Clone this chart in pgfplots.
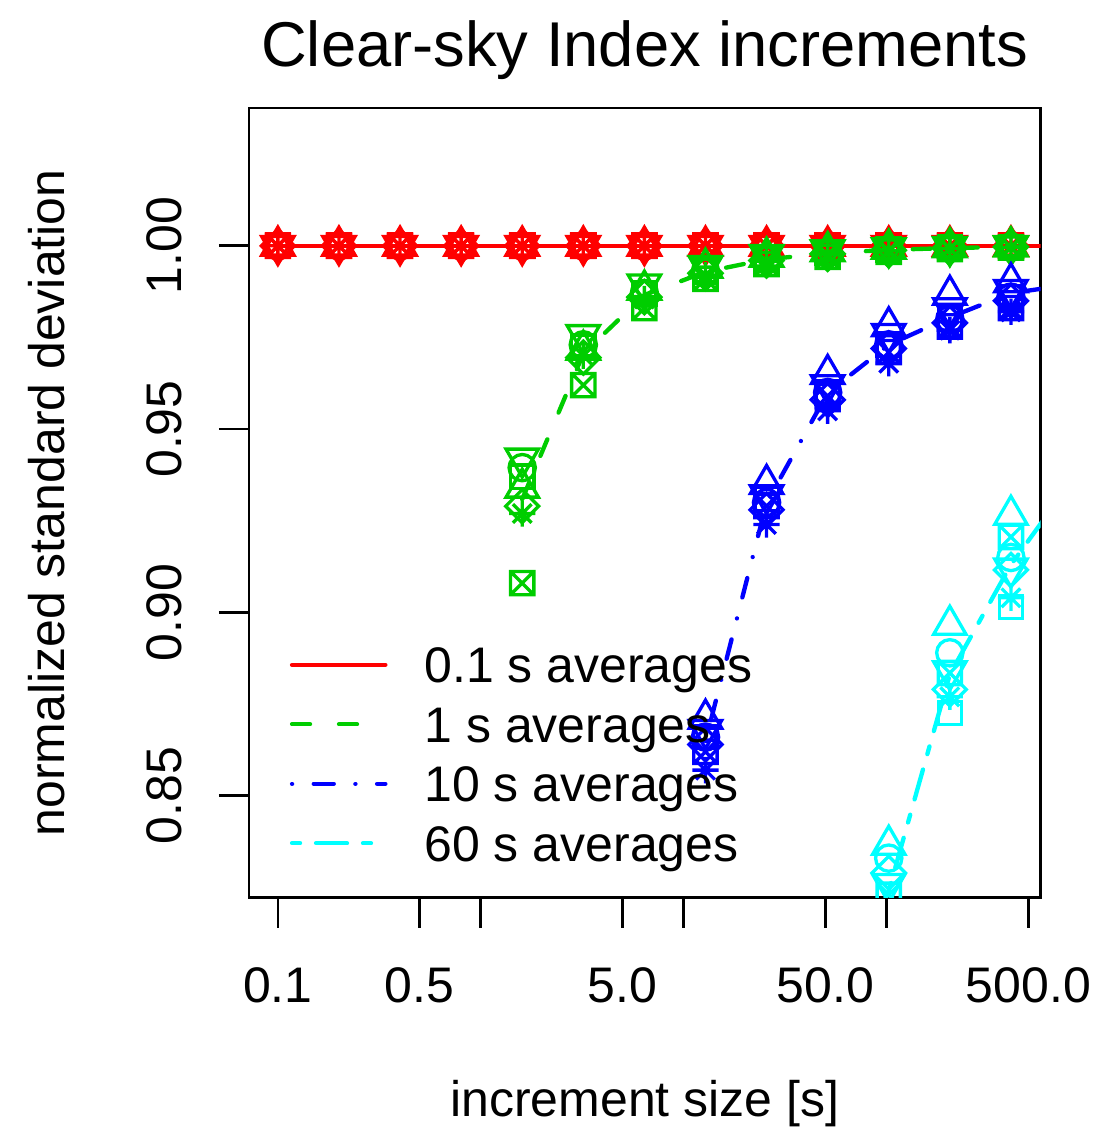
\documentclass[border=0pt]{standalone}
\usepackage{pgfplots}
\pgfplotsset{compat=1.18}
\usepackage{pgfplotstable}
\usepackage{fontspec}
\setmainfont{Liberation Sans}
\definecolor{rred}{RGB}{255,0,0}
\definecolor{rgreen}{RGB}{0,205,0}
\definecolor{rblue}{RGB}{0,0,255}
\definecolor{rcyan}{RGB}{0,255,255}

% R-like plotting symbols
\pgfdeclareplotmark{Rsq}{\pgfpathrectangle{\pgfqpoint{-\pgfplotmarksize}{-\pgfplotmarksize}}{\pgfqpoint{2\pgfplotmarksize}{2\pgfplotmarksize}}\pgfusepathqstroke}
\pgfdeclareplotmark{Rsqx}{\pgfpathrectangle{\pgfqpoint{-\pgfplotmarksize}{-\pgfplotmarksize}}{\pgfqpoint{2\pgfplotmarksize}{2\pgfplotmarksize}}%
 \pgfpathmoveto{\pgfqpoint{-\pgfplotmarksize}{-\pgfplotmarksize}}\pgfpathlineto{\pgfqpoint{\pgfplotmarksize}{\pgfplotmarksize}}%
 \pgfpathmoveto{\pgfqpoint{-\pgfplotmarksize}{\pgfplotmarksize}}\pgfpathlineto{\pgfqpoint{\pgfplotmarksize}{-\pgfplotmarksize}}\pgfusepathqstroke}
\pgfdeclareplotmark{Rtu}{\pgfpathmoveto{\pgfqpoint{0pt}{1.6\pgfplotmarksize}}\pgfpathlineto{\pgfqpoint{1.3856\pgfplotmarksize}{-0.8\pgfplotmarksize}}\pgfpathlineto{\pgfqpoint{-1.3856\pgfplotmarksize}{-0.8\pgfplotmarksize}}\pgfpathclose\pgfusepathqstroke}
\pgfdeclareplotmark{Rtd}{\pgfpathmoveto{\pgfqpoint{0pt}{-1.6\pgfplotmarksize}}\pgfpathlineto{\pgfqpoint{1.3856\pgfplotmarksize}{0.8\pgfplotmarksize}}\pgfpathlineto{\pgfqpoint{-1.3856\pgfplotmarksize}{0.8\pgfplotmarksize}}\pgfpathclose\pgfusepathqstroke}
\pgfdeclareplotmark{Rci}{\pgfpathcircle{\pgfpointorigin}{1.128\pgfplotmarksize}\pgfusepathqstroke}
\pgfdeclareplotmark{Rdi}{\pgfpathmoveto{\pgfqpoint{0pt}{1.414\pgfplotmarksize}}\pgfpathlineto{\pgfqpoint{1.414\pgfplotmarksize}{0pt}}\pgfpathlineto{\pgfqpoint{0pt}{-1.414\pgfplotmarksize}}\pgfpathlineto{\pgfqpoint{-1.414\pgfplotmarksize}{0pt}}\pgfpathclose\pgfusepathqstroke}
\pgfdeclareplotmark{Rast}{\pgfpathmoveto{\pgfqpoint{-1.128\pgfplotmarksize}{0pt}}\pgfpathlineto{\pgfqpoint{1.128\pgfplotmarksize}{0pt}}%
 \pgfpathmoveto{\pgfqpoint{0pt}{-1.128\pgfplotmarksize}}\pgfpathlineto{\pgfqpoint{0pt}{1.128\pgfplotmarksize}}%
 \pgfpathmoveto{\pgfqpoint{-0.8\pgfplotmarksize}{-0.8\pgfplotmarksize}}\pgfpathlineto{\pgfqpoint{0.8\pgfplotmarksize}{0.8\pgfplotmarksize}}%
 \pgfpathmoveto{\pgfqpoint{-0.8\pgfplotmarksize}{0.8\pgfplotmarksize}}\pgfpathlineto{\pgfqpoint{0.8\pgfplotmarksize}{-0.8\pgfplotmarksize}}\pgfusepathqstroke}

% columns: tu = triangle up, td = triangle down, ci = circle, di = diamond,
% sx = square with x, as = asterisk, sq = square, m = mean (line)
\pgfplotstableread{
x     tu  td  ci  di  sx  as  sq  m
0.1   1 1 1 1 1 1 1 1
0.2   1 1 1 1 1 1 1 1
0.4   1 1 1 1 1 1 1 1
0.8   1 1 1 1 1 1 1 1
1.6   1 1 1 1 1 1 1 1
3.2   1 1 1 1 1 1 1 1
6.4   1 1 1 1 1 1 1 1
12.8  1 1 1 1 1 1 1 1
25.6  1 1 1 1 1 1 1 1
51.2  1 1 1 1 1 1 1 1
102.4 1 1 1 1 1 1 1 1
204.8 1 1 1 1 1 1 1 1
409.6 1 1 1 1 1 1 1 1
819.2 nan nan nan nan nan nan nan 1
}\redtab

\pgfplotstableread{
x     tu     td     ci     di     sx     as     sq     m
1.6   0.934  0.942  0.9395 0.929  0.908  0.927  0.937  0.9309
3.2   0.9716 0.9757 0.973  0.9695 0.962  0.970  0.9725 0.9706
6.4   0.988  0.9895 0.987  0.986  0.983  0.9855 0.987  0.9866
12.8  0.994  0.9945 0.993  0.9925 0.991  0.992  0.993  0.9929
25.6  0.997  0.9975 0.9965 0.996  0.995  0.9958 0.9965 0.9963
51.2  0.9985 0.9988 0.998  0.9978 0.997  0.9976 0.998  0.9980
102.4 0.9992 0.9994 0.9989 0.9988 0.9984 0.9987 0.999  0.9989
204.8 0.9996 0.9997 0.9995 0.9994 0.9991 0.9993 0.9995 0.9994
409.6 0.9998 0.9999 0.9997 0.9997 0.9995 0.9996 0.9997 0.9997
819.2 nan    nan    nan    nan    nan    nan    nan    0.9999
}\greentab

\pgfplotstableread{
x     tu     td     ci     di     sx     as     sq     m
12.8  0.871  0.868  0.866  0.864  0.862  0.857  0.866  0.8649
25.6  0.935  0.932  0.930  0.928  0.929  0.924  0.931  0.9299
51.2  0.965  0.962  0.960  0.958  0.959  0.955  0.960  0.9599
102.4 0.978  0.976  0.973  0.972  0.971  0.968  0.973  0.9730
204.8 0.9866 0.983  0.980  0.979  0.978  0.977  0.980  0.9805
409.6 0.990  0.988  0.986  0.985  0.983  0.982  0.986  0.9871
819.2 nan    nan    nan    nan    nan    nan    nan    0.9895
}\bluetab

\pgfplotstableread{
x     tu     td     ci     di     sx     as     sq     m
102.4 0.8366 0.826  0.833  0.829  0.823  0.815  0.806  0.8241
204.8 0.8966 0.884  0.889  0.879  0.8835 0.877  0.8726 0.8831
409.6 0.9266 0.912  0.915  0.9116 0.9206 0.904  0.9015 0.9130
819.2 nan    nan    nan    nan    nan    nan    nan    0.9360
}\cyantab

\pgfplotsset{
  mk/.style={only marks, mark size=3.5pt, line width=1pt, forget plot, mark options={solid}},
  ln/.style={line width=1.3pt, line cap=round, mark=none, forget plot},
}

\begin{document}
\begin{tikzpicture}
\begin{axis}[
  scale only axis,
  width=237.6pt, height=237pt,
  xmode=log,
  xmin=0.072, xmax=574,
  ymin=0.8222, ymax=1.0376,
  clip marker paths=true,
  unbounded coords=discard,
  xtick={0.1,0.5,1,5,10,50,100,500},
  xticklabels={0.1,0.5,,5.0,,50.0,,500.0},
  minor xtick={},
  ytick={0.85,0.90,0.95,1.00},
  yticklabels={0.85,0.90,0.95,1.00},
  tick pos=left,
  tick align=outside,
  major tick length=9pt,
  tick style={black, line width=0.8pt},
  axis line style={black, line width=0.8pt},
  xticklabel style={font=\fontsize{15}{18}\selectfont, anchor=base, yshift=-22.4pt},
  yticklabel style={font=\fontsize{15}{18}\selectfont, xshift=-11.1pt, rotate=90, anchor=base},
  every axis title/.style={at={(axis description cs:0.5,1)}, anchor=base, yshift=12.3pt, inner sep=0pt, font=\fontsize{19}{23}\selectfont},
  every axis x label/.style={at={(axis description cs:0.5,0)}, anchor=base, yshift=-65.7pt, inner sep=0pt, font=\fontsize{15}{18}\selectfont},
  every axis y label/.style={at={(axis description cs:0,0.5)}, xshift=-55.2pt, rotate=90, anchor=base, inner sep=0pt, font=\fontsize{15}{18}\selectfont},
  title={Clear-sky Index increments},
  xlabel={increment size [s]},
  ylabel={normalized standard deviation},
  legend style={draw=none, fill=none, at={(rel axis cs:0,1)}, anchor=north west,
    xshift=12.3pt, yshift=-158.7pt, font=\fontsize{15}{18}\selectfont,
    inner sep=0pt, outer sep=0pt, row sep=1.05pt,
    nodes={inner sep=0pt, text height=13.8pt, text depth=3pt},
    /tikz/every odd column/.append style={column sep=11.1pt}},
  legend cell align=left,
  legend image code/.code={\draw[#1] (0pt,0pt) -- (28pt,0pt);},
]
% 0.1 s averages
\addplot[mk, rred, mark=Rsq]  table[x=x, y=sq] {\redtab};
\addplot[mk, rred, mark=Rsqx] table[x=x, y=sx] {\redtab};
\addplot[mk, rred, mark=Rast] table[x=x, y=as] {\redtab};
\addplot[mk, rred, mark=Rdi]  table[x=x, y=di] {\redtab};
\addplot[mk, rred, mark=Rci]  table[x=x, y=ci] {\redtab};
\addplot[mk, rred, mark=Rtd]  table[x=x, y=td] {\redtab};
\addplot[mk, rred, mark=Rtu]  table[x=x, y=tu] {\redtab};
\addplot[ln, rred] table[x=x, y=m] {\redtab};
% 1 s averages
\addplot[mk, rgreen, mark=Rsq]  table[x=x, y=sq] {\greentab};
\addplot[mk, rgreen, mark=Rsqx] table[x=x, y=sx] {\greentab};
\addplot[mk, rgreen, mark=Rast] table[x=x, y=as] {\greentab};
\addplot[mk, rgreen, mark=Rdi]  table[x=x, y=di] {\greentab};
\addplot[mk, rgreen, mark=Rci]  table[x=x, y=ci] {\greentab};
\addplot[mk, rgreen, mark=Rtd]  table[x=x, y=td] {\greentab};
\addplot[mk, rgreen, mark=Rtu]  table[x=x, y=tu] {\greentab};
\addplot[ln, rgreen, dash pattern=on 5.4pt off 8.7pt] table[x=x, y=m] {\greentab};
% 10 s averages
\addplot[mk, rblue, mark=Rsq]  table[x=x, y=sq] {\bluetab};
\addplot[mk, rblue, mark=Rsqx] table[x=x, y=sx] {\bluetab};
\addplot[mk, rblue, mark=Rast] table[x=x, y=as] {\bluetab};
\addplot[mk, rblue, mark=Rdi]  table[x=x, y=di] {\bluetab};
\addplot[mk, rblue, mark=Rci]  table[x=x, y=ci] {\bluetab};
\addplot[mk, rblue, mark=Rtd]  table[x=x, y=td] {\bluetab};
\addplot[mk, rblue, mark=Rtu]  table[x=x, y=tu] {\bluetab};
\addplot[ln, rblue, dash pattern=on 0.01pt off 6.5pt on 6pt off 6.5pt] table[x=x, y=m] {\bluetab};
% 60 s averages
\addplot[mk, rcyan, mark=Rsq]  table[x=x, y=sq] {\cyantab};
\addplot[mk, rcyan, mark=Rsqx] table[x=x, y=sx] {\cyantab};
\addplot[mk, rcyan, mark=Rast] table[x=x, y=as] {\cyantab};
\addplot[mk, rcyan, mark=Rdi]  table[x=x, y=di] {\cyantab};
\addplot[mk, rcyan, mark=Rci]  table[x=x, y=ci] {\cyantab};
\addplot[mk, rcyan, mark=Rtd]  table[x=x, y=td] {\cyantab};
\addplot[mk, rcyan, mark=Rtu]  table[x=x, y=tu] {\cyantab};
\addplot[ln, rcyan, dash pattern=on 2.4pt off 4.8pt on 9.3pt off 4.8pt] table[x=x, y=m] {\cyantab};

\addlegendimage{rred, line width=1.3pt, line cap=round}
\addlegendentry{0.1 s averages}
\addlegendimage{rgreen, line width=1.3pt, line cap=round, dash pattern=on 5.4pt off 8.7pt}
\addlegendentry{1 s averages}
\addlegendimage{rblue, line width=1.3pt, line cap=round, dash pattern=on 0.01pt off 6.5pt on 6pt off 6.5pt}
\addlegendentry{10 s averages}
\addlegendimage{rcyan, line width=1.3pt, line cap=round, dash pattern=on 2.4pt off 4.8pt on 9.3pt off 4.8pt}
\addlegendentry{60 s averages}

\coordinate (bbsw) at (rel axis cs:0,0);
\coordinate (bbne) at (rel axis cs:1,1);
\end{axis}
\path ([shift={(-74.7pt,-68.7pt)}]bbsw) rectangle ([shift={(21pt,32.4pt)}]bbne);
\end{tikzpicture}
\end{document}
